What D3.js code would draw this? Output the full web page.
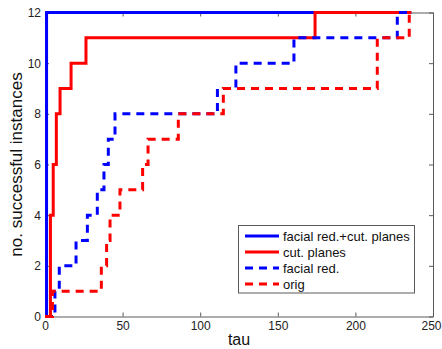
<!DOCTYPE html>
<html>
<head>
<meta charset="utf-8">
<script src="https://cdn.jsdelivr.net/npm/d3@7"></script>
<style>
  body { margin: 0; background: #fff; }
  text { font-family: "Liberation Sans", Arial, sans-serif; }
</style>
</head>
<body>
<div id="chart"></div>
<script>
// step points (tau where the count changes, count after the step)
let facialCutTau = [0, 1, 236];
let facialCutN   = [0, 12, 12];

let cutTau = [0, 3.5, 5.3, 7.3, 9.7, 16.8, 26.4, 174, 236];
let cutN   = [0, 4, 6, 8, 9, 10, 11, 12, 12];

let facialTau = [0, 6.4, 9.2, 20, 27.3, 33.7, 38, 40.8, 45.1, 111.1, 123, 160.4, 227, 236];
let facialN   = [0, 1, 2, 3, 4, 5, 6, 7, 8, 9, 10, 11, 12, 12];

let origTau = [0, 4.8, 36.3, 39.7, 41.9, 48.3, 62.9, 66.4, 85.9, 114.9, 214.1, 234.7, 236];
let origN   = [0, 1, 2, 3, 4, 5, 6, 7, 8, 9, 11, 12, 12];

let seriesNames = ['facial red.+cut. planes', 'cut. planes', 'facial red.', 'orig'];
let seriesColors = ['#0000ff', '#ff0000', '#0000ff', '#ff0000'];
let seriesDash = [null, null, '8,6', '8,6'];

let xTicks = [0, 50, 100, 150, 200, 250];
let yTicks = [0, 2, 4, 6, 8, 10, 12];

let W = 442, H = 349;
let margin = { top: 12.5, right: 9, bottom: 32.5, left: 45 };
let iw = W - margin.left - margin.right;
let ih = H - margin.top - margin.bottom;

let svg = d3.select('#chart').append('svg').attr('width', W).attr('height', H);
let g = svg.append('g').attr('transform', `translate(${margin.left},${margin.top})`);

let x = d3.scaleLinear().domain([0, 250]).range([0, iw]);
let y = d3.scaleLinear().domain([0, 12]).range([ih, 0]);

let axisColor = '#5a5a5a';

function styleAxis(a) {
  a.selectAll('path').attr('stroke', axisColor);
  a.selectAll('line').attr('stroke', axisColor);
  a.selectAll('text').attr('fill', '#222').style('font-size', '12px').style('font-family', '"Liberation Sans", Arial, sans-serif');
}

let gx = g.append('g').attr('transform', `translate(0,${ih})`)
  .call(d3.axisBottom(x).tickValues(xTicks).tickSizeInner(-4).tickSizeOuter(0).tickPadding(5));
styleAxis(gx);
// last label sits on the window edge, pull it in a little
gx.selectAll('.tick text').filter(d => d == 250).attr('dx', '-2');

let gxt = g.append('g')
  .call(d3.axisTop(x).tickValues(xTicks).tickSizeInner(-4).tickSizeOuter(0).tickFormat(''));
styleAxis(gxt);
let gy = g.append('g')
  .call(d3.axisLeft(y).tickValues(yTicks).tickSizeInner(-4).tickSizeOuter(0).tickPadding(4));
styleAxis(gy);
let gyr = g.append('g').attr('transform', `translate(${iw},0)`)
  .call(d3.axisRight(y).tickValues(yTicks).tickSizeInner(-4).tickSizeOuter(0).tickFormat(''));
styleAxis(gyr);

let allTau = [facialCutTau, cutTau, facialTau, origTau];
let allN = [facialCutN, cutN, facialN, origN];

let line = d3.line()
  .x(d => x(d[0]))
  .y(d => y(d[1]))
  .curve(d3.curveStepAfter);

for (let i = 0; i < allTau.length; i++) {
  let pts = allTau[i].map((t, j) => [t, allN[i][j]]);
  g.append('path')
    .datum(pts)
    .attr('fill', 'none')
    .attr('stroke', seriesColors[i])
    .attr('stroke-width', 3)
    .attr('stroke-dasharray', seriesDash[i])
    .attr('d', line);
}

// axis titles
svg.append('text')
  .attr('x', margin.left + iw / 2)
  .attr('y', 344.5)
  .attr('text-anchor', 'middle')
  .style('font-size', '16px')
  .attr('fill', '#111')
  .text('tau');

svg.append('text')
  .attr('transform', `translate(22,${margin.top + ih / 2}) rotate(-90)`)
  .attr('text-anchor', 'middle')
  .style('font-size', '17px')
  .attr('fill', '#111')
  .text('no. successful instances');

// legend
let leg = svg.append('g').attr('transform', 'translate(238.5,225.5)');
leg.append('rect')
  .attr('width', 176).attr('height', 67.5)
  .attr('fill', '#fff').attr('stroke', axisColor).attr('stroke-width', 1);

seriesNames.forEach((name, i) => {
  let yy = 10.5 + i * 16;
  leg.append('line')
    .attr('x1', 6.5).attr('x2', 40.5)
    .attr('y1', yy).attr('y2', yy)
    .attr('stroke', seriesColors[i])
    .attr('stroke-width', 3)
    .attr('stroke-dasharray', seriesDash[i]);
  leg.append('text')
    .attr('x', 44.5).attr('y', yy)
    .attr('dy', '0.35em')
    .style('font-size', '13px')
    .attr('fill', '#111')
    .text(name);
});
</script>
</body>
</html>
